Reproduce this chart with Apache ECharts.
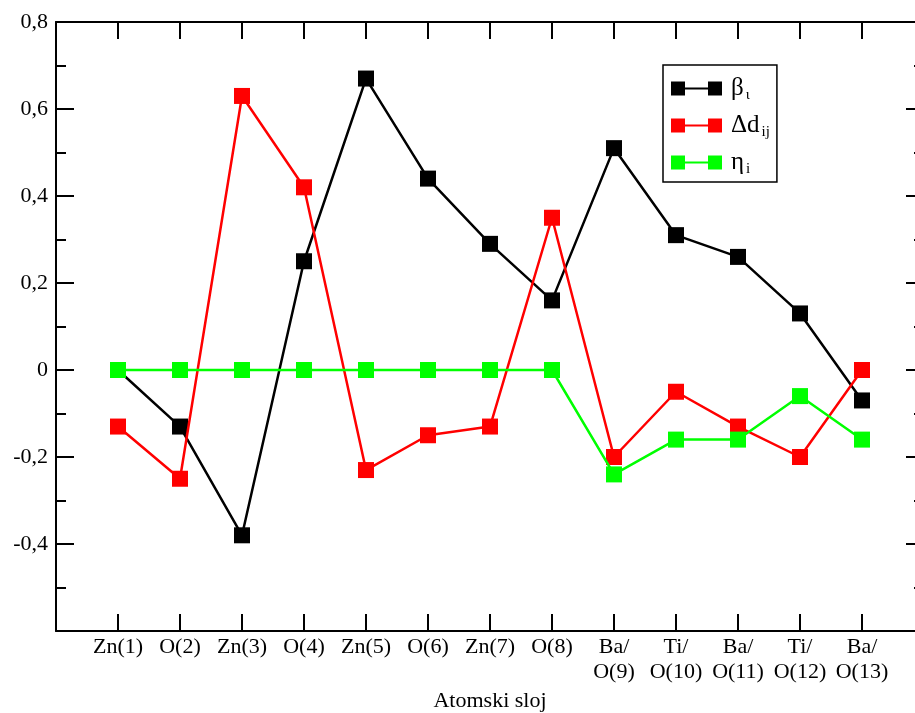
<!DOCTYPE html>
<html><head><meta charset="utf-8">
<script src="https://cdn.jsdelivr.net/npm/echarts@6/dist/echarts.min.js"></script>
<style>html,body{margin:0;padding:0;background:#fff}#c{width:915px;height:713px}</style>
</head><body><div id="c"></div>
<script>
const categories = ['Zn(1)','O(2)','Zn(3)','O(4)','Zn(5)','O(6)','Zn(7)','O(8)','Ba/\nO(9)','Ti/\nO(10)','Ba/\nO(11)','Ti/\nO(12)','Ba/\nO(13)'];
const beta   = [0, -0.13, -0.38, 0.25, 0.67, 0.44, 0.29, 0.16, 0.51, 0.31, 0.26, 0.13, -0.07];
const deltaD = [-0.13, -0.25, 0.63, 0.42, -0.23, -0.15, -0.13, 0.35, -0.20, -0.05, -0.13, -0.20, 0];
const eta    = [0, 0, 0, 0, 0, 0, 0, 0, -0.24, -0.16, -0.16, -0.06, -0.16];
const yMin = -0.6, yMax = 0.8, yStep = 0.2;
const xTitle = 'Atomski sloj';

const FONT = 'Liberation Serif';
const toPts = arr => arr.map((v, i) => [i + 1, v]);
const icon = 'path://M0,0H14V14H0Z M14,6H37V8H14Z M37,0H51V14H37Z';
const axisLineStyle = {color:'#000', width:2};
const yLabel = v => {
  if (v < yMin + 0.05) return '';
  if (Math.abs(v) < 1e-9) return '0';
  return v.toFixed(1).replace('.', ',');
};
const chart = echarts.init(document.getElementById('c'));
chart.setOption({
  animation: false,
  backgroundColor: '#fff',
  grid: {left: 56, top: 22, width: 868, height: 609, containLabel: false, outerBoundsMode: 'none'},
  xAxis: [{
    type: 'value', min: 0, max: categories.length + 1, interval: 1, position: 'bottom',
    axisLine: {show: true, onZero: false, lineStyle: axisLineStyle},
    axisTick: {show: true, inside: true, length: 17, lineStyle: axisLineStyle},
    splitLine: {show: false},
    axisLabel: {
      margin: 4, fontFamily: FONT, fontSize: 22, color: '#000', lineHeight: 25,
      showMinLabel: true, showMaxLabel: true,
      formatter: v => (v >= 1 && v <= categories.length) ? categories[v - 1] : ''
    },
    name: xTitle, nameLocation: 'middle', nameGap: 58,
    nameTextStyle: {fontFamily: FONT, fontSize: 22, color: '#000'}
  }, {
    type: 'value', min: 0, max: categories.length + 1, interval: 1, position: 'top',
    axisLine: {show: true, onZero: false, lineStyle: axisLineStyle},
    axisTick: {show: true, inside: true, length: 17, lineStyle: axisLineStyle},
    splitLine: {show: false}, axisLabel: {show: false}
  }],
  yAxis: [{
    type: 'value', min: yMin, max: yMax, interval: yStep, position: 'left',
    axisLine: {show: true, onZero: false, lineStyle: axisLineStyle},
    axisTick: {show: true, inside: true, length: 18, lineStyle: axisLineStyle},
    minorTick: {show: true, splitNumber: 2, length: 10, lineStyle: {color:'#000', width: 2}},
    splitLine: {show: false},
    axisLabel: {margin: 8, fontFamily: FONT, fontSize: 22, color: '#000', formatter: yLabel}
  }, {
    type: 'value', min: yMin, max: yMax, interval: yStep, position: 'right',
    axisLine: {show: true, onZero: false, lineStyle: axisLineStyle},
    axisTick: {show: true, inside: true, length: 18, lineStyle: axisLineStyle},
    minorTick: {show: true, splitNumber: 2, length: 10, lineStyle: {color:'#000', width: 2}},
    splitLine: {show: false}, axisLabel: {show: false}
  }],
  legend: {
    orient: 'vertical', left: 663, top: 65,
    backgroundColor: '#fff', borderColor: '#000', borderWidth: 1.5, borderRadius: 0,
    padding: [9, 7, 5, 8], itemGap: 8, itemWidth: 51, itemHeight: 14,
    data: [{name:'beta', icon: icon}, {name:'delta', icon: icon}, {name:'eta', icon: icon}],
    formatter: n => n === 'beta' ? '{m|β}{s|ι}' : n === 'delta' ? '{m|Δd}{s|ij}' : '{m|η}{s|i}',
    textStyle: {
      fontFamily: FONT, color: '#000',
      rich: {
        m: {fontFamily: FONT, fontSize: 25, color: '#000', lineHeight: 22, padding: [0, 0, 0, 4]},
        s: {fontFamily: FONT, fontSize: 15, color: '#000', lineHeight: 22, padding: [14, 0, 0, 2]}
      }
    }
  },
  series: [
    {name: 'beta', type: 'line', data: toPts(beta), symbol: 'rect', symbolSize: 16,
     color: '#000', lineStyle: {color: '#000', width: 2.5}, itemStyle: {color: '#000'}, z: 2},
    {name: 'delta', type: 'line', data: toPts(deltaD), symbol: 'rect', symbolSize: 16,
     color: '#ff0000', lineStyle: {color: '#ff0000', width: 2.5}, itemStyle: {color: '#ff0000'}, z: 3},
    {name: 'eta', type: 'line', data: toPts(eta), symbol: 'rect', symbolSize: 16,
     color: '#00ff00', lineStyle: {color: '#00ff00', width: 2.5}, itemStyle: {color: '#00ff00'}, z: 4}
  ]
});
</script></body></html>
